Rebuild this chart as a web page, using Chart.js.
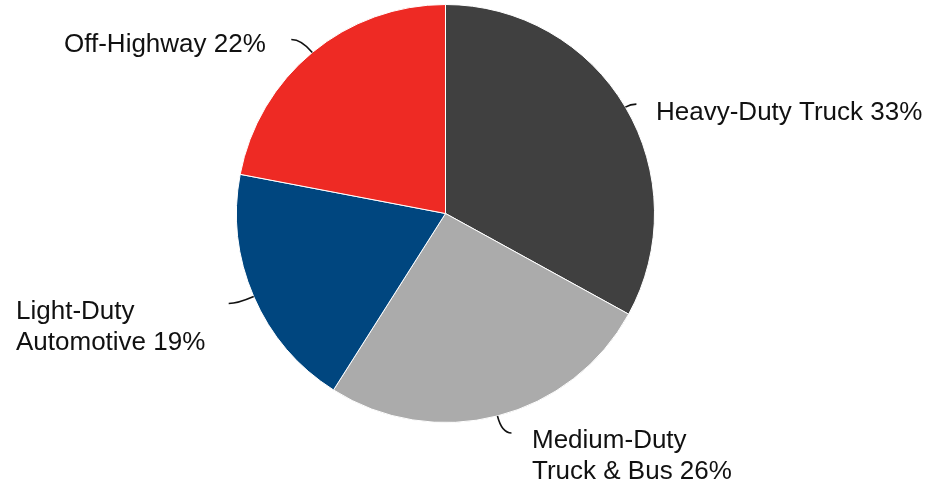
<!DOCTYPE html>
<html>
<head>
<meta charset="utf-8">
<script src="https://cdn.jsdelivr.net/npm/chart.js@4.4.1/dist/chart.umd.min.js"></script>
<style>
  html, body { margin: 0; padding: 0; background: #ffffff; }
  #wrap { width: 942px; height: 487px; position: relative; }
</style>
</head>
<body>
<div id="wrap"><canvas id="chart" width="942" height="487"></canvas></div>
<script>
// Market segments and their shares (%)
const segments = ['Heavy-Duty Truck', 'Medium-Duty Truck & Bus', 'Light-Duty Automotive', 'Off-Highway'];
const shares = [33, 26, 19, 22];
// Label text, split into lines
const labelLines = [
  ['Heavy-Duty Truck 33%'],
  ['Medium-Duty', 'Truck & Bus 26%'],
  ['Light-Duty', 'Automotive 19%'],
  ['Off-Highway 22%']
];
const sliceColors = ['#404040', '#ababab', '#00467f', '#ee2a24'];

// Leader line end offsets (from the slice's outer midpoint) and text anchors
const leaderEnds = [
  { dx: 11, dy: -3, tx: 656, ty: 113 },
  { dx: 14, dy: 17, tx: 532, ty: 441 },
  { dx: -25, dy: 7, tx: 16, ty: 312 },
  { dx: -21, dy: -13, tx: 64, ty: 45 }
];

const FONT = '26px "Liberation Sans", Arial, sans-serif';
const LINE_H = 31;

const leaderLabels = {
  id: 'leaderLabels',
  afterDatasetsDraw(chart) {
    const ctx = chart.ctx;
    const meta = chart.getDatasetMeta(0);
    ctx.save();
    meta.data.forEach((arc, i) => {
      const p = arc.getProps(['x', 'y', 'startAngle', 'endAngle', 'outerRadius'], true);
      const mid = (p.startAngle + p.endAngle) / 2;
      const ux = Math.cos(mid), uy = Math.sin(mid);
      const x0 = p.x + ux * p.outerRadius;
      const y0 = p.y + uy * p.outerRadius;
      const le = leaderEnds[i];
      const x2 = x0 + le.dx, y2 = y0 + le.dy;
      // control point: radial direction meets the horizontal through the end
      let t = Math.abs(uy) > 0.05 ? (y2 - y0) / uy : 0;
      if (t < 0) t = 0;
      const cx = x0 + ux * t, cy = y2;
      ctx.beginPath();
      ctx.moveTo(x0, y0);
      ctx.quadraticCurveTo(cx, cy, x2, y2);
      ctx.strokeStyle = '#111111';
      ctx.lineWidth = 1.6;
      ctx.stroke();

      ctx.font = FONT;
      ctx.fillStyle = '#111111';
      ctx.textAlign = 'left';
      ctx.textBaseline = 'middle';
      labelLines[i].forEach((ln, k) => {
        ctx.fillText(ln, le.tx, le.ty + k * LINE_H);
      });
    });
    ctx.restore();
  }
};

new Chart(document.getElementById('chart'), {
  type: 'pie',
  data: {
    labels: segments,
    datasets: [{
      data: shares,
      backgroundColor: sliceColors,
      borderColor: '#ffffff',
      borderWidth: 1
    }]
  },
  options: {
    responsive: false,
    animation: false,
    layout: { padding: { left: 236, right: 287, top: 4, bottom: 64 } },
    plugins: {
      legend: { display: false },
      tooltip: { enabled: false }
    }
  },
  plugins: [leaderLabels]
});
</script>
</body>
</html>
